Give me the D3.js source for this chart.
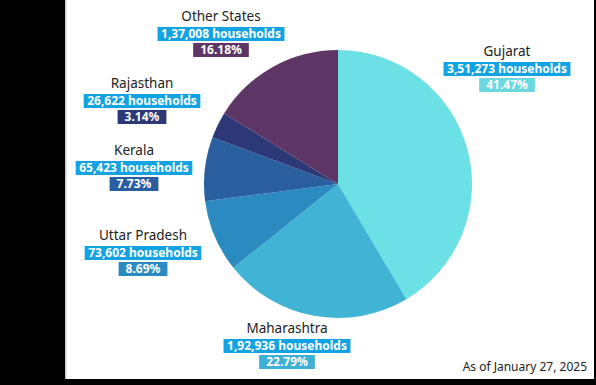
<!DOCTYPE html>
<html>
<head>
<meta charset="utf-8">
<script src="https://cdn.jsdelivr.net/npm/d3@7"></script>
<style>
  body { margin: 0; background: #fff; }
  text { font-family: "Noto Sans", sans-serif; }
</style>
</head>
<body>
<div id="c1"></div>
<script>
// Data
var states = ["Gujarat", "Maharashtra", "Uttar Pradesh", "Kerala", "Rajasthan", "Other States"];
var households = ["3,51,273", "1,92,936", "73,602", "65,423", "26,622", "1,37,008"];
var shares = [41.47, 22.79, 8.69, 7.73, 3.14, 16.18];
var note = "As of January 27, 2025";

// Layout / styles
var w = 596, h = 385;
var colors = ["#6be1e6", "#41b4d5", "#2b8bc0", "#2a5f9f", "#2c3976", "#5d3666"];
var pctColors = ["#6ad8e0", "#3fb0d5", "#2b8bc0", "#2a5f9f", "#2c3976", "#5d3666"];
// label centre x, and y of name baseline
var labelPos = [[507, 56], [287, 333], [143, 240], [134, 155], [142, 88], [221, 21]];
var cx = 338, cy = 184, r = 134;

var svg = d3.select("#c1").append("svg")
    .attr("width", w)
    .attr("height", h);

svg.append("rect").attr("width", w).attr("height", h).attr("fill", "#fff");
// black frame like the screenshot
svg.append("rect").attr("x", 0).attr("y", 0).attr("width", 65).attr("height", h).attr("fill", "#000");
svg.append("rect").attr("x", 65).attr("y", 0).attr("width", 1.5).attr("height", 379).attr("fill", "#c8c8c8");
svg.append("rect").attr("x", 594).attr("y", 0).attr("width", 2).attr("height", h).attr("fill", "#000");
svg.append("rect").attr("x", 0).attr("y", 379).attr("width", w).attr("height", 6).attr("fill", "#000");

var pie = d3.pie().sort(null).value(function (d) { return d; });
var arc = d3.arc().innerRadius(0).outerRadius(r);

svg.append("g")
    .attr("transform", "translate(" + cx + "," + cy + ")")
    .selectAll("path")
    .data(pie(shares))
    .enter()
    .append("path")
    .attr("d", arc)
    .attr("fill", function (d, i) { return colors[i]; });

// Labels
var labels = svg.selectAll("g.lab")
    .data(states)
    .enter()
    .append("g")
    .attr("class", "lab")
    .attr("transform", function (d, i) {
        return "translate(" + labelPos[i][0] + "," + labelPos[i][1] + ")";
    });

labels.append("text")
    .attr("text-anchor", "middle")
    .attr("font-size", 13.5)
    .attr("fill", "#222")
    .text(function (d) { return d; });

function box(g, y, txt, fill, pad) {
    var bg = g.append("rect").attr("fill", fill);
    var t = g.append("text")
        .attr("text-anchor", "middle")
        .attr("y", y + 11)
        .attr("font-size", 12)
        .attr("font-weight", "bold")
        .attr("fill", "#fff")
        .text(txt);
    var bw = t.node().getComputedTextLength() + pad;
    bg.attr("x", -bw / 2).attr("y", y).attr("width", bw).attr("height", 14);
}

labels.each(function (d, i) {
    var g = d3.select(this);
    box(g, 6, households[i] + " households", "#14a3e2", 7);
    box(g, 22, shares[i].toFixed(2) + "%", pctColors[i], 14);
});

svg.append("text")
    .attr("x", 587)
    .attr("y", 371)
    .attr("text-anchor", "end")
    .attr("font-size", 12)
    .attr("fill", "#222")
    .text(note);
</script>
</body>
</html>
